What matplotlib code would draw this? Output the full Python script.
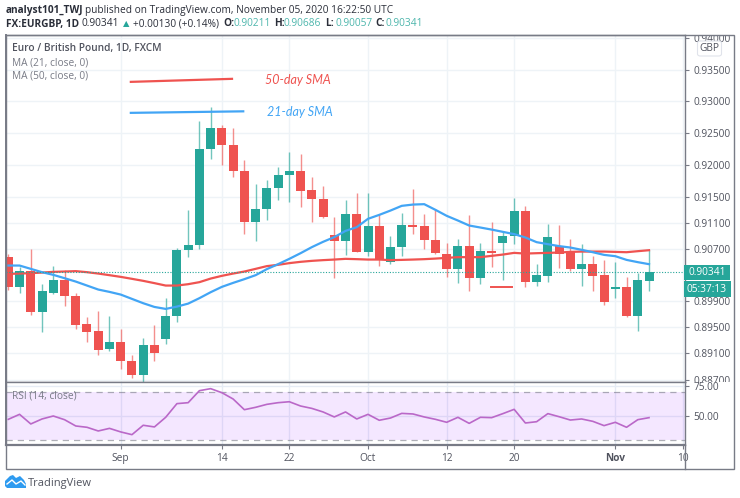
import numpy as np
import matplotlib
matplotlib.use("Agg")
from matplotlib import pyplot as plt
from matplotlib.patches import Rectangle, Polygon, FancyBboxPatch
from matplotlib.transforms import Bbox
from matplotlib.ticker import NullLocator

plt.rcParams['font.family'] = ['Open Sans', 'DejaVu Sans']

GREEN = '#26a69a'
RED = '#ef5350'
BLUE = '#42a5f5'
GREY = '#787b86'
TEXT = '#50535e'
GRID = '#eef3f7'

# candles, one value per trading day
opens = [0.90579, 0.90109, 0.90364, 0.89737, 0.90018, 0.90226, 0.89981, 0.89549, 0.89439, 0.89170,
         0.89276, 0.88993, 0.88782, 0.89226, 0.89317, 0.89666, 0.90683, 0.90760, 0.92248, 0.92581,
         0.92315, 0.91907, 0.91110, 0.91312, 0.91637, 0.91840, 0.91907, 0.91607, 0.91477, 0.90914,
         0.90821, 0.91238, 0.90657, 0.91053, 0.90493, 0.90724, 0.91064, 0.91043, 0.90842, 0.90625,
         0.90390, 0.90744, 0.90247, 0.90667, 0.90795, 0.90898, 0.91281, 0.90186, 0.90283, 0.90744,
         0.90651, 0.90386, 0.90467, 0.90293, 0.90079, 0.90118, 0.89666, 0.90211]
closes = [0.90109, 0.90364, 0.89737, 0.90052, 0.90226, 0.89977, 0.89539, 0.89433, 0.89150, 0.89276,
          0.88993, 0.88782, 0.89226, 0.89109, 0.89671, 0.90687, 0.90764, 0.92248, 0.92581, 0.92315,
          0.91907, 0.91115, 0.91316, 0.91642, 0.91845, 0.91907, 0.91596, 0.91472, 0.91192, 0.90821,
          0.91238, 0.90657, 0.91053, 0.90528, 0.90729, 0.91064, 0.91033, 0.90832, 0.90631, 0.90390,
          0.90740, 0.90247, 0.90667, 0.90631, 0.90903, 0.91281, 0.90186, 0.90293, 0.90879, 0.90625,
          0.90386, 0.90467, 0.90283, 0.89889, 0.90118, 0.89666, 0.90217, 0.90341]
highs = [0.90621, 0.90425, 0.90694, 0.90160, 0.90441, 0.90375, 0.90027, 0.89652, 0.89747, 0.89671,
         0.89469, 0.89079, 0.89337, 0.89530, 0.89941, 0.90718, 0.91301, 0.92692, 0.92912, 0.92629,
         0.92581, 0.92079, 0.91700, 0.91767, 0.91965, 0.92200, 0.92173, 0.91810, 0.91679, 0.91187,
         0.91456, 0.91569, 0.91560, 0.91238, 0.90903, 0.91249, 0.91623, 0.91233, 0.91320, 0.90786,
         0.90852, 0.91223, 0.90786, 0.91119, 0.90965, 0.91482, 0.91363, 0.90467, 0.91084, 0.91069,
         0.90846, 0.90770, 0.90590, 0.90528, 0.90498, 0.90263, 0.90333, 0.90686]
lows = [0.90068, 0.90027, 0.89686, 0.89433, 0.90007, 0.89823, 0.89469, 0.89280, 0.89084, 0.89144,
        0.88872, 0.88732, 0.88676, 0.88993, 0.89246, 0.89580, 0.90579, 0.90698, 0.92096, 0.92002,
        0.91814, 0.90929, 0.90821, 0.91146, 0.91456, 0.91429, 0.91352, 0.91119, 0.91171, 0.90247,
        0.90605, 0.90642, 0.90590, 0.90436, 0.90467, 0.90590, 0.90929, 0.90694, 0.90621, 0.90272,
        0.90180, 0.90057, 0.90160, 0.90425, 0.90221, 0.90774, 0.90109, 0.90129, 0.90195, 0.90406,
        0.90364, 0.90129, 0.90057, 0.89834, 0.89946, 0.89660, 0.89443, 0.90057]

ma21 = [0.90441, 0.90441, 0.90390, 0.90339, 0.90298, 0.90247, 0.90195, 0.90134, 0.90073, 0.90037,
        0.89996, 0.89930, 0.89864, 0.89807, 0.89777, 0.89812, 0.89858, 0.89941, 0.90032, 0.90114,
        0.90175, 0.90232, 0.90293, 0.90386, 0.90462, 0.90544, 0.90631, 0.90724, 0.90806, 0.90879,
        0.90975, 0.91033, 0.91162, 0.91223, 0.91290, 0.91363, 0.91383, 0.91389, 0.91301, 0.91208,
        0.91135, 0.91058, 0.91027, 0.90995, 0.90960, 0.90925, 0.90873, 0.90801, 0.90770, 0.90740,
        0.90718, 0.90683, 0.90646, 0.90605, 0.90585, 0.90528, 0.90493, 0.90462]
ma50 = [0.90313, 0.90318, 0.90324, 0.90333, 0.90344, 0.90349, 0.90355, 0.90339, 0.90318, 0.90293,
        0.90267, 0.90237, 0.90206, 0.90171, 0.90134, 0.90134, 0.90155, 0.90186, 0.90241, 0.90283,
        0.90318, 0.90349, 0.90390, 0.90432, 0.90452, 0.90478, 0.90498, 0.90513, 0.90524, 0.90533,
        0.90544, 0.90539, 0.90533, 0.90533, 0.90524, 0.90528, 0.90533, 0.90539, 0.90548, 0.90559,
        0.90570, 0.90570, 0.90570, 0.90590, 0.90610, 0.90636, 0.90625, 0.90631, 0.90636, 0.90641,
        0.90651, 0.90656, 0.90656, 0.90656, 0.90651, 0.90646, 0.90662, 0.90677]
rsi = [47.2, 51.4, 43.3, 47.5, 50.0, 46.9, 41.6, 40.5, 37.4, 39.6,
       36.6, 34.3, 42.2, 40.8, 48.9, 60.4, 61.2, 71.3, 73.0, 69.6,
       64.3, 55.3, 57.3, 59.8, 61.2, 62.0, 58.4, 56.4, 53.4, 49.2,
       53.4, 47.5, 51.4, 46.4, 48.3, 52.2, 51.7, 49.2, 47.2, 44.7,
       48.9, 43.8, 48.9, 48.6, 52.0, 55.6, 44.1, 45.2, 52.0, 49.4,
       46.6, 47.5, 45.5, 41.9, 44.7, 40.5, 46.9, 48.6]

# hand drawn lines on the chart
sma50_x = [10.9, 19.9]
sma50_y = [0.93308, 0.93356]
sma21_x = [10.9, 20.9]
sma21_y = [0.92818, 0.92842]
dash_x = [42.9, 44.8]
dash_y = [0.90106, 0.90106]

price_ticks = [0.94, 0.935, 0.93, 0.925, 0.92, 0.915, 0.911, 0.907, 0.899, 0.895, 0.891, 0.887]
rsi_ticks = [75, 50]
time_pos = [10, 19, 25, 32, 39, 45, 54, 60]
time_labels = ['Sep', '14', '22', 'Oct', '12', '20', 'Nov', '10']
last_price = 0.90341


def px_axes(fig, x0, y0, x1, y1):
    # pixel box measured from the top left corner
    return fig.add_axes([x0/740, 1-y1/498, (x1-x0)/740, (y1-y0)/498])


def ftext(x, y, s, **kw):
    kw.setdefault('va', 'center')
    kw.setdefault('fontsize', 7.3)
    kw.setdefault('color', '#2a2e39')
    fig.text(x/740, 1-y/498, s, **kw)


fig = plt.figure(figsize=(7.4, 4.98), dpi=100)
ax = px_axes(fig, 5.5, 35, 685, 382)
ax2 = px_axes(fig, 5.5, 382, 685, 445)

idx = np.arange(len(opens))
o = np.array(opens)
c = np.array(closes)
colors = [GREEN if b >= a else RED for a, b in zip(opens, closes)]

ax.set_yscale('log')
ax.set_xlim(-0.25, 60.2)
ax.set_ylim(0.88669, 0.94054)
ax.yaxis.set_minor_locator(NullLocator())
ax.set_yticks(price_ticks)
ax.set_yticklabels(['%.5f' % p for p in price_ticks])
ax.yaxis.set_minor_locator(NullLocator())
ax.yaxis.tick_right()
ax.set_xticks(time_pos)
ax.tick_params(axis='x', length=0, labelbottom=False)
ax.tick_params(axis='y', length=3, width=0.8, color=GREY, labelsize=7.3, labelcolor=TEXT, pad=3)
ax.grid(True, color=GRID, lw=1)
ax.set_axisbelow(True)

ax.vlines(idx, lows, highs, colors=colors, lw=1, alpha=0.65, zorder=2)
ax.bar(idx, np.abs(c-o), bottom=np.minimum(o, c), width=0.8, color=colors, zorder=3)
ax.plot(idx, ma50, color=RED, lw=1.6, zorder=4)
ax.plot(idx, ma21, color=BLUE, lw=1.6, zorder=4)
ax.axhline(last_price, color=GREEN, lw=0.8, ls=(0, (1, 1.5)), zorder=4)
ax.plot(sma50_x, sma50_y, color=RED, lw=1.6)
ax.plot(sma21_x, sma21_y, color=BLUE, lw=1.6)
ax.plot(dash_x, dash_y, color=RED, lw=1.4)

# labels at the ends of the price scale are cut by the panel edges
for lab in ax.get_yticklabels():
    lab.set_clip_on(True)
    lab.set_clip_box(Bbox([[686, 498-382], [733, 498-36]]))

# rsi panel
ax2.set_xlim(-0.25, 60.2)
ax2.set_ylim(25.6, 78.6)
ax2.axhspan(30, 70, color='#9915ff', alpha=0.1, lw=0)
ax2.axhline(70, color=GREY, lw=0.9, alpha=0.6, ls=(0, (5, 4)))
ax2.axhline(30, color=GREY, lw=0.9, alpha=0.6, ls=(0, (5, 4)))
ax2.plot(idx, rsi, color='#ba68c8', lw=1.2)
ax2.yaxis.tick_right()
ax2.set_yticks(rsi_ticks)
ax2.set_yticklabels(['%.2f' % r for r in rsi_ticks])
ax2.set_xticks(time_pos)
ax2.set_xticklabels(time_labels)
ax2.tick_params(axis='y', length=3, width=0.8, color=GREY, labelsize=7.3, labelcolor=TEXT, pad=3)
ax2.tick_params(axis='x', length=3, width=0.8, color=GREY, labelsize=7.3, labelcolor=TEXT, pad=2.5)
ax2.get_xticklabels()[6].set_fontweight('bold')
ax2.grid(True, color='#e6ecf5', lw=1)
ax2.set_axisbelow(True)

for a in (ax, ax2):
    for s in a.spines.values():
        s.set_color(GREY)
        s.set_linewidth(1)
ax2.spines['bottom'].set_linewidth(1.6)
ax.spines['left'].set_linewidth(1.4)
ax2.spines['left'].set_linewidth(1.4)

# outer frame around the price scale and the time scale
frame = Rectangle((5.5/740, 1-468.5/498), 728.5/740, 433.5/498, transform=fig.transFigure,
                  fill=False, ec=GREY, lw=1)
fig.add_artist(frame)
fig.add_artist(plt.Line2D([685/740, 685/740], [1-468.5/498, 1-445/498], color=GREY, lw=1))

# header
ftext(6, 10, 'analyst101_TWJ', fontweight='bold')
ftext(85, 10, 'published on TradingView.com, November 05, 2020 16:22:50 UTC')
ftext(6, 24, 'FX:EURGBP, 1D', fontweight='bold')
ftext(82, 24, '0.90341')
ftext(122.5, 24, '\u25b2', color=GREEN, fontsize=6, family=['DejaVu Sans'])
ftext(133, 24, '+0.00130 (+0.14%)')
for x_l, x_v, lab, val in [(223, 233, 'O:', '0.90211'), (274, 284, 'H:', '0.90686'),
                           (325, 335, 'L:', '0.90057'), (375, 385, 'C:', '0.90341')]:
    ftext(x_l, 24, lab, fontweight='bold')
    ftext(x_v, 24, val, color='#4db6ac')

# legend
ftext(12, 49, 'Euro / British Pound, 1D, FXCM', color=TEXT, fontweight='semibold')
ftext(12, 63, 'MA (21, close, 0)', color=GREY)
ftext(12, 76.5, 'MA (50, close, 0)', color=GREY)
ftext(12, 396, 'RSI (14, close)', color=GREY)

# notes on the chart
ftext(265, 80, '50-day SMA', color=RED, fontsize=9, style='italic', family=['Lato', 'DejaVu Sans'])
ftext(267, 112, '21-day SMA', color=BLUE, fontsize=9, style='italic', family=['Lato', 'DejaVu Sans'])

# price and countdown labels
fig.add_artist(Rectangle((684/740, 1-280/498), 46/740, 15/498, transform=fig.transFigure, fc=GREEN, ec='none'))
fig.add_artist(Rectangle((684/740, 1-296.5/498), 47/740, 15.5/498, transform=fig.transFigure, fc=GREEN, ec='none'))
ftext(707, 272.7, '0.90341', color='white', ha='center')
ftext(707, 289, '05:37:13', color='white', ha='center')

# currency box
fig.add_artist(FancyBboxPatch((697.5/740, 1-56/498), 24/740, 15/498, transform=fig.transFigure,
                              boxstyle='round,pad=0,rounding_size=0.004', fc='white', ec='#e0e3eb', lw=0.8,
                              zorder=5))
ftext(709.5, 48.5, 'GBP', color=TEXT, ha='center', zorder=6)

# footer logo
cloud = [(5, 486), (5, 481), (10, 476), (13, 475), (16, 478), (20, 476), (24, 480), (26, 484), (26, 488), (7, 488)]
fig.add_artist(Polygon([(x/740, 1-y/498) for x, y in cloud], closed=True, transform=fig.transFigure,
                       fc='#2e9bf0', ec='none'))
zig = [(7, 484), (12, 480), (16, 484), (21, 481), (25, 485)]
fig.add_artist(plt.Line2D([x/740 for x, y in zig], [1-y/498 for x, y in zig], color='white', lw=1))
ftext(28, 483, 'TradingView', color=TEXT, fontsize=8)

fig.savefig('out.png', dpi=100)
